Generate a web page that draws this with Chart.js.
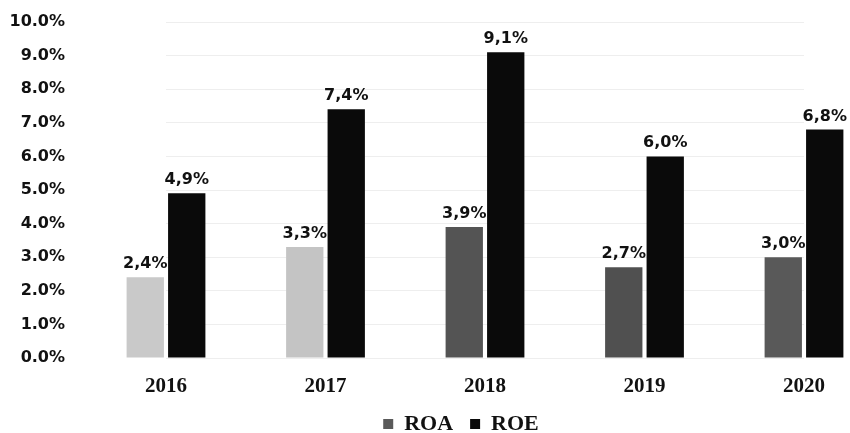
<!DOCTYPE html>
<html>
<head>
<meta charset="utf-8">
<script src="https://cdn.jsdelivr.net/npm/chart.js@4/dist/chart.umd.min.js"></script>
<style>
  html, body { margin: 0; padding: 0; background: #fff; }
  #wrap { width: 850px; height: 433px; }
</style>
</head>
<body>
<div id="wrap"><canvas id="c" width="850" height="433"></canvas></div>
<script>
const years = ['2016', '2017', '2018', '2019', '2020'];
const roa = [2.4, 3.3, 3.9, 2.7, 3.0];
const roe = [4.9, 7.4, 9.1, 6.0, 6.8];
const roaColors = ['#c9c9c9', '#c4c4c4', '#545454', '#505050', '#595959'];
const roeColor = '#0a0a0a';
const legendRoaColor = '#5a5a5a';

const fmtLabel = v => v.toFixed(1).replace('.', ',') + '%';

const valueLabels = {
  id: 'valueLabels',
  afterDatasetsDraw(chart) {
    const ctx = chart.ctx;
    ctx.save();
    ctx.font = 'bold 16px "DejaVu Sans"';
    ctx.fillStyle = '#111';
    ctx.textAlign = 'center';
    ctx.textBaseline = 'alphabetic';
    chart.data.datasets.forEach((ds, di) => {
      const meta = chart.getDatasetMeta(di);
      meta.data.forEach((bar, i) => {
        ctx.fillText(fmtLabel(ds.data[i]), bar.x, bar.y - 9);
      });
    });
    ctx.restore();
  }
};

const layoutTweak = {
  id: 'layoutTweak',
  afterLayout(chart) {
    if (chart.scales.x) chart.scales.x.bottom += 26;
    if (chart.legend) {
      chart.legend.top += 12;
      chart.legend.bottom += 12;
      chart.legend.left += 59;
      chart.legend.right += 59;
    }
  }
};

new Chart(document.getElementById('c'), {
  type: 'bar',
  data: {
    labels: years,
    datasets: [
      { label: 'ROA', data: roa, backgroundColor: roaColors, barPercentage: 0.9, categoryPercentage: 0.52, clip: false },
      { label: 'ROE', data: roe, backgroundColor: roeColor, barPercentage: 0.9, categoryPercentage: 0.52, clip: false }
    ]
  },
  options: {
    responsive: false,
    animation: false,
    layout: { padding: { left: 0, right: 46, top: 22, bottom: 0 } },
    scales: {
      x: {
        offset: false,
        grid: { display: false, drawTicks: false },
        border: { display: false },
        ticks: {
          autoSkip: false, maxRotation: 0, padding: 16,
          color: '#111',
          font: { family: '"Liberation Serif"', weight: 'bold', size: 21 }
        },
        afterFit(scale) { scale.height = 26; }
      },
      y: {
        min: 0, max: 10,
        grid: { color: '#eeeeee', drawTicks: true, tickLength: 98, tickColor: 'rgba(0,0,0,0)' },
        border: { display: false },
        ticks: {
          stepSize: 1, padding: 3, color: '#111',
          font: { family: '"DejaVu Sans"', weight: 'bold', size: 16 },
          callback: v => Number(v).toFixed(1) + '%'
        },
        afterFit(scale) { scale.width = 166; }
      }
    },
    plugins: {
      tooltip: { enabled: false },
      legend: {
        position: 'bottom',
        labels: {
          boxWidth: 10, boxHeight: 10, padding: 17,
          color: '#111',
          font: { family: '"Liberation Serif"', weight: 'bold', size: 22 },
          generateLabels(chart) {
            return chart.data.datasets.map((ds, i) => ({
              text: ds.label,
              fillStyle: i === 0 ? legendRoaColor : roeColor,
              strokeStyle: 'rgba(0,0,0,0)',
              lineWidth: 0,
              hidden: false,
              datasetIndex: i,
              fontColor: '#111'
            }));
          }
        }
      }
    }
  },
  plugins: [valueLabels, layoutTweak]
});
</script>
</body>
</html>
